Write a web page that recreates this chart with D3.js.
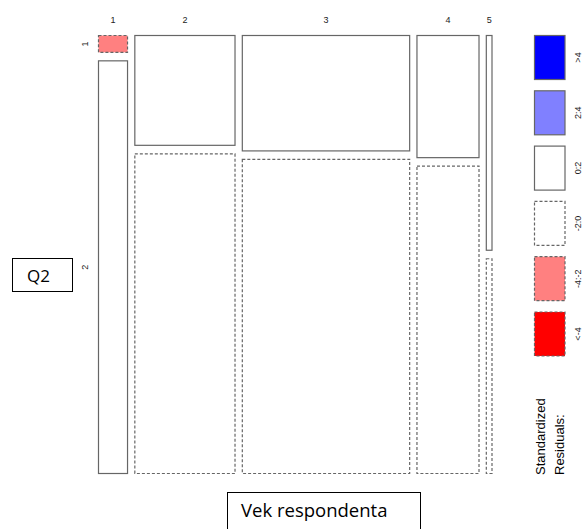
<!DOCTYPE html>
<html><head><meta charset="utf-8">
<script src="https://cdn.jsdelivr.net/npm/d3@7/dist/d3.min.js"></script>
<style>body{margin:0;background:#fff}svg{display:block}</style>
</head><body>
<svg id="c" width="584" height="529"></svg>
<script>
// Data: counts per age group (Vek respondenta) for Q2 = 1 and Q2 = 2
const ageGroups = ["1","2","3","4","5"];
const q2Levels = ["1","2"];
const countsQ2_1 = [2, 45, 79, 31, 5];
const countsQ2_2 = [49, 131, 215, 78, 5];
const legendLabels = [">4","2:4","0:2","-2:0","-4:-2","<-4"];
const legendBreaks = [4, 2, 0, -2, -4, -Infinity];

const svg = d3.select("#c");
const X0 = 98.5, X1 = 492, Y0 = 35.5, Y1 = 473.5, GX = 7.3, GY = 8.5;
const colTotals = ageGroups.map((g,i)=>countsQ2_1[i]+countsQ2_2[i]);
const N = d3.sum(colTotals);
const rowTotals = [d3.sum(countsQ2_1), d3.sum(countsQ2_2)];
const x = d3.scaleLinear().domain([0,1]).range([0, X1-X0-GX*(ageGroups.length-1)]);
const y = d3.scaleLinear().domain([0,1]).range([0, Y1-Y0-GY]);

const fills = ["#0000FF","#8080FF","#FFFFFF","#FFFFFF","#FF8080","#FF0000"];
function shadeIdx(r){
  if (r>4) return 0; if (r>2) return 1; if (r>=0) return 2;
  if (r>-2) return 3; if (r>-4) return 4; return 5;
}
const stroke = "#666";
const lblFont = "Liberation Sans, Arial";
let cum = 0;
const cells = [];
ageGroups.forEach((g,i)=>{
  const x0 = X0 + x(cum/N) + GX*i;
  const w = x(colTotals[i]/N);
  cum += colTotals[i];
  const vals = [countsQ2_1[i], countsQ2_2[i]];
  let ycum = 0;
  vals.forEach((v,j)=>{
    const e = colTotals[i]*rowTotals[j]/N;
    const res = (v-e)/Math.sqrt(e);
    const y0 = Y0 + y(ycum/colTotals[i]) + GY*j;
    const h = y(v/colTotals[i]);
    ycum += v;
    cells.push({i,j,x:x0,y:y0,w,h,res});
  });
  svg.append("text").attr("x", x0+w/2).attr("y", 23)
    .attr("text-anchor","middle").attr("font-family",lblFont)
    .attr("font-size", 9).attr("fill","#222").text(g);
});
svg.selectAll("rect.cell").data(cells).join("rect").attr("class","cell")
  .attr("x",d=>d.x).attr("y",d=>d.y).attr("width",d=>d.w).attr("height",d=>d.h)
  .attr("fill",d=>fills[shadeIdx(d.res)])
  .attr("stroke",stroke).attr("stroke-width",1.2)
  .attr("stroke-dasharray",d=>d.res<0?"3,2":null);

// Row labels (Q2 levels) based on first column
cells.filter(c=>c.i===0).forEach(c=>{
  const cy = c.y + c.h/2;
  svg.append("text").attr("transform",`translate(88,${cy}) rotate(-90)`)
    .attr("text-anchor","middle").attr("font-family",lblFont)
    .attr("font-size",9).attr("fill","#222").text(q2Levels[c.j]);
});

// Legend
const LX = 534.5, LW = 30.5, LH = 44, LS = 55.3, LY = 35.5;
legendLabels.forEach((lab,k)=>{
  const yy = LY + k*LS;
  svg.append("rect").attr("x",LX).attr("y",yy).attr("width",LW).attr("height",LH)
    .attr("fill",fills[k]).attr("stroke",stroke).attr("stroke-width",1.2)
    .attr("stroke-dasharray", legendBreaks[k]<0 ? "3,2" : null);
  svg.append("text").attr("transform",`translate(581,${yy+LH/2}) rotate(-90)`)
    .attr("text-anchor","middle").attr("font-family",lblFont)
    .attr("font-size",9).attr("fill","#222").text(lab);
});
svg.append("text").attr("transform","translate(545,475) rotate(-90)")
  .attr("font-family",lblFont).attr("font-size",13).attr("fill","#000")
  .text("Standardized");
svg.append("text").attr("transform","translate(564,475) rotate(-90)")
  .attr("font-family",lblFont).attr("font-size",13).attr("fill","#000")
  .text("Residuals:");

// Axis title boxes
svg.append("rect").attr("x",12.5).attr("y",258.5).attr("width",60).attr("height",33)
  .attr("fill","#fff").attr("stroke","#000").attr("stroke-width",1);
svg.append("text").attr("x",27).attr("y",282).attr("font-family","Open Sans, sans-serif")
  .attr("font-size",17).attr("fill","#000").text("Q2");
svg.append("rect").attr("x",227.5).attr("y",492.5).attr("width",193).attr("height",45)
  .attr("fill","#fff").attr("stroke","#000").attr("stroke-width",1);
svg.append("text").attr("x",241).attr("y",517).attr("font-family","Open Sans, sans-serif")
  .attr("font-size",18.5).attr("fill","#000").text("Vek respondenta");
</script>
</body></html>
